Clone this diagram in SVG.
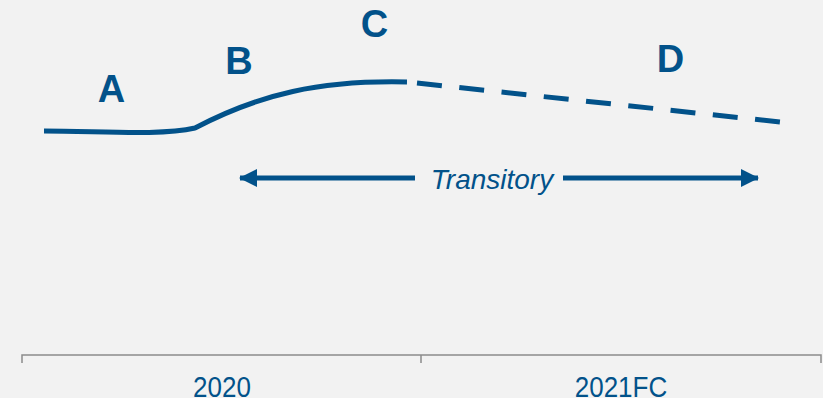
<svg xmlns="http://www.w3.org/2000/svg" width="823" height="398" viewBox="0 0 823 398">
  <style>
    .lbl { font-family: "Liberation Sans", Arial, sans-serif; font-weight: bold; font-size: 38px; fill: #02528a; text-anchor: middle; }
    .yr { font-family: "Liberation Sans", Arial, sans-serif; font-size: 26px; fill: #02528a; text-anchor: middle; }
    .trans { font-family: "Liberation Sans", Arial, sans-serif; font-style: italic; font-size: 28px; fill: #02528a; text-anchor: middle; }
    .curve { fill: none; stroke: #02528a; stroke-width: 5; }
    .axis { fill: none; stroke: #8c8c8c; stroke-width: 1.5; }
  </style>
  <defs>
    <marker id="head" viewBox="0 0 18 18" refX="17" refY="9" markerWidth="18" markerHeight="18" orient="auto-start-reverse" markerUnits="userSpaceOnUse">
      <path d="M0,0 L18,9 L0,18 Z" fill="#02528a"/>
    </marker>
  </defs>
  <rect width="823" height="398" fill="#f2f2f2"/>

  <g id="connectors">
    <!-- actual trend -->
    <path class="curve" d="M44,131 C100,131 160,136 195,128 C260,94 320,80 407,82"/>
    <!-- forecast trend -->
    <path class="curve" d="M417,83 L780,122" stroke-dasharray="25 17.5"/>
    <!-- transitory span -->
    <line class="curve" x1="415" y1="178" x2="240" y2="178" marker-end="url(#head)"/>
    <line class="curve" x1="563" y1="178" x2="758" y2="178" marker-end="url(#head)"/>
  </g>

  <g id="label-a"><text class="lbl" x="111.5" y="102">A</text></g>
  <g id="label-b"><text class="lbl" x="239" y="74">B</text></g>
  <g id="label-c"><text class="lbl" x="374.5" y="37">C</text></g>
  <g id="label-d"><text class="lbl" x="670.5" y="72">D</text></g>
  <g id="transitory"><text class="trans" x="492" y="189">Transitory</text></g>

  <g id="axis">
    <path class="axis" d="M22,363 V355 H821 V363 M421,355 V363"/>
    <g transform="translate(0,397) scale(1,1.15)">
      <text class="yr" x="222" y="0">2020</text>
      <text class="yr" x="621" y="0">2021FC</text>
    </g>
  </g>
</svg>
